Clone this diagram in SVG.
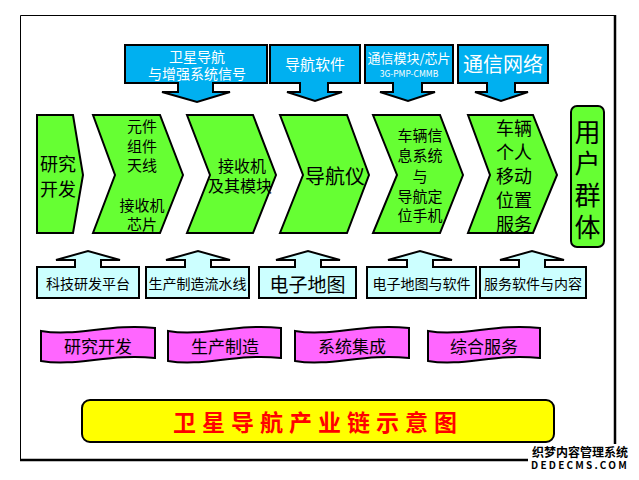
<svg xmlns="http://www.w3.org/2000/svg" width="639" height="480" viewBox="0 0 639 480">
<style>
text{font-family:"Noto Sans CJK SC","Noto Sans",sans-serif;text-anchor:middle;dominant-baseline:central}
.blue{fill:#00B0F0;stroke:#000;stroke-width:2;stroke-linejoin:miter}
.green{fill:#66FF33;stroke:#000;stroke-width:2}
.cyan{fill:#CCFFFF;stroke:#000;stroke-width:2}
.pink{fill:#FF66FF;stroke:#000;stroke-width:2}
.w{fill:#fff}
.k{fill:#000}
</style>
<rect width="639" height="480" fill="#fff"/>
<g id="frame">
<path d="M20.5,460 V15.5 H615" fill="none" stroke="#000" stroke-width="1"/>
<path d="M615,15 V460 H20" fill="none" stroke="#000" stroke-width="2.5"/>
</g>
<g id="connectors">
<polygon class="blue" points="125,45 267,45 267,83 213,83 213,92 230,92 197,102 162,92 178,92 178,83 125,83"/>
<polygon class="blue" points="270,45 360,45 360,83 328,83 328,92 342,92 315,101 287,92 300,92 300,83 270,83"/>
<polygon class="blue" points="365,45 453,45 453,83 422,83 422,92 435,92 408,101 380,92 393,92 393,83 365,83"/>
<polygon class="blue" points="458,45 548,45 548,83 515,83 515,92 528,92 501,101 475,92 487,92 487,83 458,83"/>
<polygon class="cyan" points="37,267 75,267 75,260 56,260 88,251 120,260 101,260 101,267 139,267 139,298 37,298"/>
<polygon class="cyan" points="146,267 185,267 185,260 166,260 198,251 230,260 211,260 211,267 249,267 249,298 146,298"/>
<polygon class="cyan" points="259,267 295,267 295,260 276,260 308,251 340,260 321,260 321,267 356,267 356,298 259,298"/>
<polygon class="cyan" points="367,267 407,267 407,260 388,260 420,251 452,260 433,260 433,267 476,267 476,298 367,298"/>
<polygon class="cyan" points="480,267 519,267 519,260 500,260 532,251 564,260 545,260 545,267 586,267 586,298 480,298"/>
</g>
<g id="n-top1"><text class="w" x="197" y="56" font-size="14">卫星导航</text><text class="w" x="197" y="73" font-size="14">与增强系统信号</text></g>
<g id="n-top2"><text class="w" x="315" y="63" font-size="15">导航软件</text></g>
<g id="n-top3"><text class="w" x="409" y="57" font-size="13">通信模块/芯片</text><text class="w" x="409" y="73" font-size="8.5">3G-PMP-CMMB</text></g>
<g id="n-top4"><text class="w" x="503" y="63" font-size="20">通信网络</text></g>

<g id="n-c1"><polygon class="green" points="37,115 73,115 83,175 73,233 37,233"/>
<text class="k" x="58" y="163" font-size="18">研究</text><text class="k" x="58" y="188" font-size="18">开发</text></g>
<g id="n-c2"><polygon class="green" points="93,115 160,115 183,175 160,233 93,233 115,175"/>
<text class="k" x="142" y="125" font-size="15">元件</text><text class="k" x="142" y="145" font-size="15">组件</text><text class="k" x="142" y="164" font-size="15">天线</text><text class="k" x="142" y="204" font-size="15">接收机</text><text class="k" x="142" y="223" font-size="15">芯片</text></g>
<g id="n-c3"><polygon class="green" points="187,115 253,115 276,175 253,233 187,233 210,175"/>
<text class="k" x="242" y="165" font-size="16">接收机</text><text class="k" x="240" y="185" font-size="16">及其模块</text></g>
<g id="n-c4"><polygon class="green" points="280,115 347,115 369,175 347,233 280,233 303,175"/>
<text class="k" x="335" y="175" font-size="20">导航仪</text></g>
<g id="n-c5"><polygon class="green" points="373,115 440,115 463,175 440,233 373,233 397,175"/>
<text class="k" x="420" y="134" font-size="15">车辆信</text><text class="k" x="420" y="154" font-size="15">息系统</text><text class="k" x="420" y="175" font-size="15">与</text><text class="k" x="420" y="195" font-size="15">导航定</text><text class="k" x="420" y="214" font-size="15">位手机</text></g>
<g id="n-c6"><polygon class="green" points="468,115 533,115 557,175 533,233 468,233 490,175"/>
<text class="k" x="514" y="127" font-size="18">车辆</text><text class="k" x="514" y="151" font-size="18">个人</text><text class="k" x="514" y="175" font-size="18">移动</text><text class="k" x="514" y="199" font-size="18">位置</text><text class="k" x="514" y="223" font-size="18">服务</text></g>
<g id="n-user"><rect class="green" x="571" y="106" width="33" height="141" rx="6"/>
<text class="k" x="587.5" y="130" font-size="26">用</text><text class="k" x="587.5" y="161" font-size="26">户</text><text class="k" x="587.5" y="193" font-size="26">群</text><text class="k" x="587.5" y="225" font-size="26">体</text></g>

<g id="n-b1"><text class="k" x="88" y="283" font-size="14">科技研发平台</text></g>
<g id="n-b2"><text class="k" x="197.5" y="283" font-size="14">生产制造流水线</text></g>
<g id="n-b3"><text class="k" x="307.5" y="283" font-size="19">电子地图</text></g>
<g id="n-b4"><text class="k" x="421.5" y="283" font-size="14">电子地图与软件</text></g>
<g id="n-b5"><text class="k" x="533" y="283" font-size="14">服务软件与内容</text></g>

<g id="n-f1"><path class="pink" d="M41,331 C76,337 110,323 155,328 L155,358 C110,353 76,367 41,361 Z"/><text class="k" x="98" y="345" font-size="17">研究开发</text></g>
<g id="n-f2"><path class="pink" d="M168,331 C203,337 236,323 281,328 L281,358 C236,353 203,367 168,361 Z"/><text class="k" x="225" y="345" font-size="17">生产制造</text></g>
<g id="n-f3"><path class="pink" d="M295,331 C330,337 364,323 409,328 L409,358 C364,353 330,367 295,361 Z"/><text class="k" x="352" y="345" font-size="17">系统集成</text></g>
<g id="n-f4"><path class="pink" d="M428,331 C463,337 495,323 540,328 L540,358 C495,353 463,367 428,361 Z"/><text class="k" x="484" y="345" font-size="17">综合服务</text></g>

<g id="n-title"><rect x="82" y="400" width="472" height="42" rx="8" fill="#FFFF00" stroke="#000" stroke-width="2"/>
<text x="318" y="421" font-size="23" font-weight="bold" fill="#FF0000" letter-spacing="6">卫星导航产业链示意图</text></g>

<g id="watermark"><rect x="528" y="444" width="106" height="30" fill="#fff"/>
<text x="580" y="451" font-size="12" font-weight="bold" fill="#000">织梦内容管理系统</text>
<text x="580" y="464" font-size="10" font-weight="bold" fill="#000" letter-spacing="2.2" font-family="Liberation Mono, monospace">DEDECMS.COM</text></g>
</svg>
